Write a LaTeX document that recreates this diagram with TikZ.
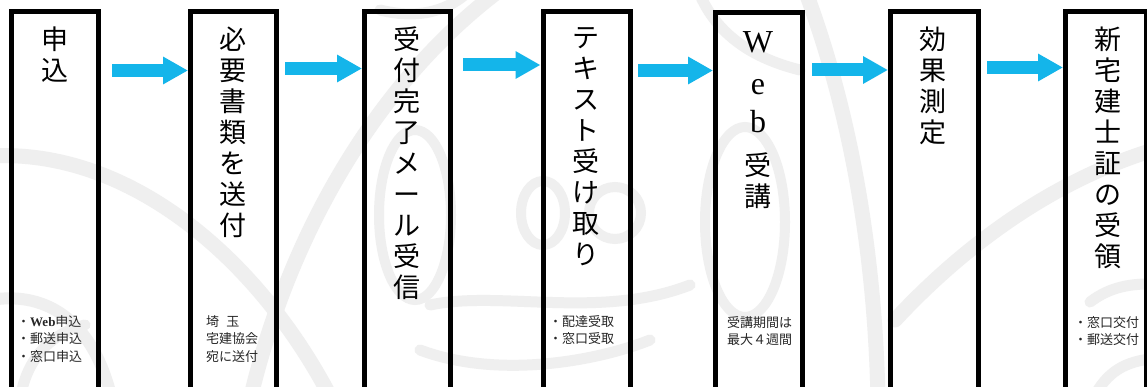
\documentclass[tikz,border=0pt]{standalone}
\usepackage{fontspec}
\setmainfont{Liberation Serif}
\newfontfamily\jp{Noto Sans CJK JP}
\usetikzlibrary{arrows.meta}
\definecolor{wm}{RGB}{239,239,239}
\definecolor{flowblue}{RGB}{20,181,234}
\tikzset{
  box/.style={draw=black, line width=5pt, minimum width=#1, minimum height=400pt, anchor=north west, inner sep=0pt},
  big/.style={font=\jp\fontsize{27}{31}\selectfont, align=center, anchor=north, inner sep=0pt, text=black},
  bigchar/.style={font=\fontsize{32}{34}\selectfont, inner sep=0pt, text=black},
  small/.style={font=\jp\fontsize{13}{17.3}\selectfont, align=left, anchor=north west, inner sep=0pt, text=black!85},
  flow/.style={draw=flowblue, line width=13pt, -{Triangle[length=25pt,width=26pt]}},
  wmline/.style={draw=wm, line width=#1, line cap=round},
  wmline/.default=13pt,
}
\begin{document}
\begin{tikzpicture}[x=1pt,y=-1pt]
\useasboundingbox (0,0) rectangle (1147,387);
\clip (0,0) rectangle (1147,387);
\fill[white] (0,0) rectangle (1147,387);
% watermark
\draw[wmline=15pt] (-10,156) .. controls (130,148) and (260,260) .. (332,400);
\draw[wmline=12pt] (-10,300) .. controls (50,290) and (95,325) .. (112,400);
\draw[wmline=11pt] (20,400) .. controls (25,365) and (45,335) .. (85,325);
\draw[wmline=15pt] (250,400) .. controls (290,230) and (380,80) .. (500,-10);
\draw[wmline=10pt] (415,215) ellipse [x radius=36, y radius=85];
\draw[wmline=10pt] (543,213) ellipse [x radius=22, y radius=32];
\draw[wmline=10pt] (615,213) ellipse [x radius=26, y radius=26];
\draw[wmline=11pt] (430,305) .. controls (500,290) and (600,320) .. (690,285);
\draw[wmline=11pt] (420,350) .. controls (500,380) and (600,360) .. (650,340);
\draw[wmline=10pt] (745,222) ellipse [x radius=40, y radius=95];
\draw[wmline=15pt] (805,-10) .. controls (850,110) and (875,250) .. (878,400);
\draw[wmline=15pt] (895,320) .. controls (960,250) and (1050,180) .. (1160,148);
\draw[wmline=11pt] (1090,302) .. controls (1110,287) and (1130,283) .. (1160,284);
\draw[wmline=11pt] (1095,395) .. controls (1110,368) and (1130,360) .. (1160,358);
\draw[wmline=11pt] (700,-5) .. controls (720,40) and (760,60) .. (800,70);
\draw[wmline=11pt] (380,10) .. controls (420,20) and (450,10) .. (470,-10);
% boxes
\node[box=87pt] (b1) at (9,9) {};
\node[box=86pt] (b2) at (188,9.5) {};
\node[box=86pt] (b3) at (362,9.5) {};
\node[box=87pt] (b4) at (540.5,9.5) {};
\node[box=86.5pt] (b5) at (713,10.5) {};
\node[box=87.5pt] (b6) at (888,9.5) {};
\node[box=81pt] (b7) at (1063,9.5) {};
% big texts
\node[big] (t1) at (55,27) {申\\込};
\node[big] (t2) at (233,27) {必\\要\\書\\類\\を\\送\\付};
\node[big] (t3) at (406.5,27) {受\\付\\完\\了\\メ\\ー\\ル\\受\\信};
\node[big] (t4) at (585.5,27) {テ\\キ\\ス\\ト\\受\\け\\取\\り};
\node[bigchar, anchor=base] (t5a) at (758,53) {W};
\node[bigchar, anchor=base] (t5b) at (758,95) {e};
\node[bigchar, anchor=base] (t5c) at (758,133) {b};
\node[big] (t5d) at (758,153) {受\\講};
\node[big] (t6) at (932.5,27) {効\\果\\測\\定};
\node[big] (t7) at (1108,27) {新\\宅\\建\\士\\証\\の\\受\\領};
% small texts
\node[small] (s1) at (17,315.5) {・{\rmfamily\bfseries Web}申込\\・郵送申込\\・窓口申込};
\node[small] (s2) at (206,315.5) {埼\hspace{0.55em}玉\\宅建協会\\宛に送付};
\node[small] (s4) at (549,315) {・配達受取\\・窓口受取};
\node[small] (s5) at (727,316) {受講期間は\\最大４週間};
\node[small] (s7) at (1074,316) {・窓口交付\\・郵送交付};
% arrows
\coordinate (a1) at (112,70.5);
\coordinate (a2) at (285,68.5);
\coordinate (a3) at (463,65);
\coordinate (a4) at (638,70.5);
\coordinate (a5) at (812,70);
\coordinate (a6) at (987,67.5);
\draw[flow] (a1) -- (b2.west |- a1);
\draw[flow] (a2) -- (b3.west |- a2);
\draw[flow] (a3) -- (b4.west |- a3);
\draw[flow] (a4) -- (b5.west |- a4);
\draw[flow] (a5) -- (b6.west |- a5);
\draw[flow] (a6) -- (b7.west |- a6);
\end{tikzpicture}
\end{document}
